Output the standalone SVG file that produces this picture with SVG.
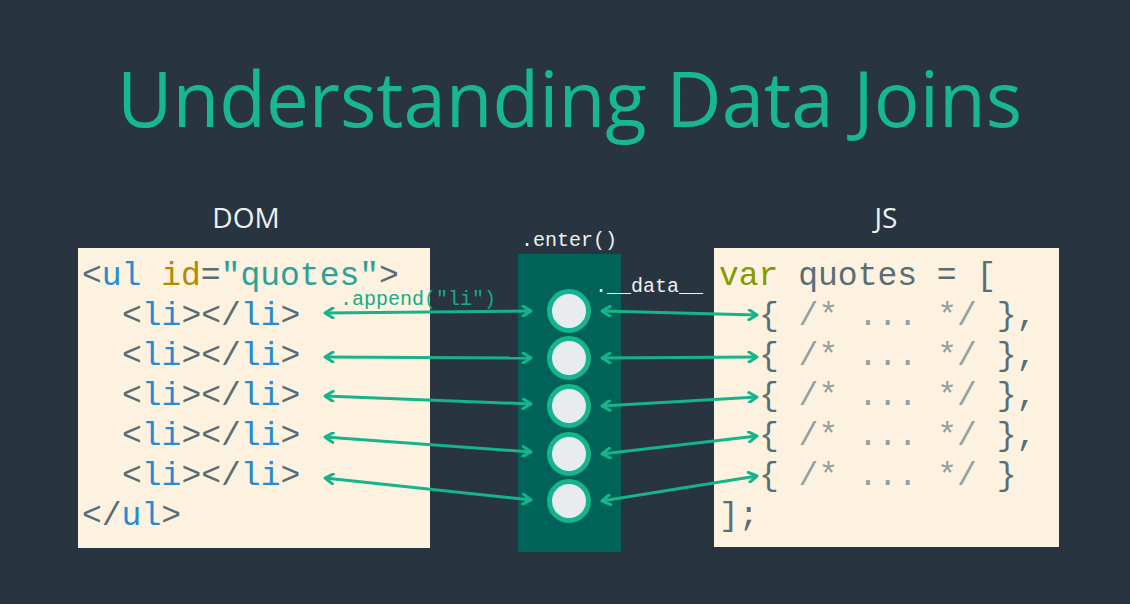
<svg xmlns="http://www.w3.org/2000/svg" width="1130" height="604" viewBox="0 0 1130 604">
<defs>
<style>
.title{font-family:"Open Sans","Liberation Sans",sans-serif;font-weight:400;font-size:77px;fill:#17b890}
.lbl{font-family:"Open Sans","Liberation Sans",sans-serif;font-size:28px;fill:#eef0f2}
.code{font-family:"Liberation Mono","DejaVu Sans Mono",monospace;font-size:33px}
.small{font-family:"Liberation Mono","DejaVu Sans Mono",monospace;font-size:20px}
.g{fill:#586e75}.b{fill:#268bd2}.y{fill:#b58900}.c{fill:#2aa198}.v{fill:#859900}.cm{fill:#93a1a1}
.panel{fill:#fdf2e0}
.dot{fill:#e9ecef;stroke:#16b48c;stroke-width:5}
.arr{stroke:#16b48c;stroke-width:3;fill:none;marker-start:url(#ah);marker-end:url(#ah)}
</style>
<marker id="ah" viewBox="0 0 12 12" refX="10" refY="6" markerWidth="12" markerHeight="12" markerUnits="userSpaceOnUse" orient="auto-start-reverse">
<path d="M2,1 L10,6 L2,11" fill="none" stroke="#16b48c" stroke-width="3" stroke-linecap="round" stroke-linejoin="round"/>
</marker>
</defs>
<rect width="1130" height="604" fill="#283541"/>
<text class="title" x="569.5" y="127" text-anchor="middle" textLength="905" lengthAdjust="spacingAndGlyphs">Understanding Data Joins</text>
<text class="lbl" x="246" y="228" text-anchor="middle">DOM</text>
<text class="lbl" x="886" y="228" text-anchor="middle">JS</text>

<g id="dom">
<rect class="panel" x="78" y="248" width="352" height="300"/>
<text class="code" x="82" y="285"><tspan class="g">&lt;</tspan><tspan class="b">ul</tspan><tspan class="g"> </tspan><tspan class="y">id</tspan><tspan class="g">=</tspan><tspan class="c">"quotes"</tspan><tspan class="g">&gt;</tspan></text>
<text class="code" x="122" y="325"><tspan class="g">&lt;</tspan><tspan class="b">li</tspan><tspan class="g">&gt;&lt;/</tspan><tspan class="b">li</tspan><tspan class="g">&gt;</tspan></text>
<text class="code" x="122" y="365"><tspan class="g">&lt;</tspan><tspan class="b">li</tspan><tspan class="g">&gt;&lt;/</tspan><tspan class="b">li</tspan><tspan class="g">&gt;</tspan></text>
<text class="code" x="122" y="405"><tspan class="g">&lt;</tspan><tspan class="b">li</tspan><tspan class="g">&gt;&lt;/</tspan><tspan class="b">li</tspan><tspan class="g">&gt;</tspan></text>
<text class="code" x="122" y="445"><tspan class="g">&lt;</tspan><tspan class="b">li</tspan><tspan class="g">&gt;&lt;/</tspan><tspan class="b">li</tspan><tspan class="g">&gt;</tspan></text>
<text class="code" x="122" y="485"><tspan class="g">&lt;</tspan><tspan class="b">li</tspan><tspan class="g">&gt;&lt;/</tspan><tspan class="b">li</tspan><tspan class="g">&gt;</tspan></text>
<text class="code" x="82" y="525"><tspan class="g">&lt;/</tspan><tspan class="b">ul</tspan><tspan class="g">&gt;</tspan></text>
</g>

<g id="js">
<rect class="panel" x="714" y="248" width="345" height="299"/>
<text class="code" x="719" y="285" xml:space="preserve"><tspan class="v">var</tspan><tspan class="g"> quotes = [</tspan></text>
<text class="code" x="759" y="325" xml:space="preserve"><tspan class="g">{ </tspan><tspan class="cm">/* ... */</tspan><tspan class="g"> },</tspan></text>
<text class="code" x="759" y="365" xml:space="preserve"><tspan class="g">{ </tspan><tspan class="cm">/* ... */</tspan><tspan class="g"> },</tspan></text>
<text class="code" x="759" y="405" xml:space="preserve"><tspan class="g">{ </tspan><tspan class="cm">/* ... */</tspan><tspan class="g"> },</tspan></text>
<text class="code" x="759" y="445" xml:space="preserve"><tspan class="g">{ </tspan><tspan class="cm">/* ... */</tspan><tspan class="g"> },</tspan></text>
<text class="code" x="759" y="485" xml:space="preserve"><tspan class="g">{ </tspan><tspan class="cm">/* ... */</tspan><tspan class="g"> }</tspan></text>
<text class="code g" x="719" y="525">];</text>
</g>

<g id="enter">
<rect x="518" y="254" width="103" height="298" fill="#00635a"/>
<text class="small" x="569" y="246" text-anchor="middle" fill="#eef0f2">.enter()</text>
<circle class="dot" cx="569" cy="311" r="19.5"/>
<circle class="dot" cx="569" cy="358" r="19.5"/>
<circle class="dot" cx="569" cy="406" r="19.5"/>
<circle class="dot" cx="569" cy="454" r="19.5"/>
<circle class="dot" cx="569" cy="501" r="19.5"/>
</g>

<g id="connectors">
<line class="arr" x1="325" y1="313" x2="531" y2="311"/>
<line class="arr" x1="325" y1="357" x2="531" y2="358"/>
<line class="arr" x1="325" y1="396" x2="531" y2="404"/>
<line class="arr" x1="325" y1="437" x2="531" y2="452"/>
<line class="arr" x1="325" y1="478" x2="531" y2="500"/>
<line class="arr" x1="602" y1="311" x2="757" y2="315"/>
<line class="arr" x1="602" y1="358" x2="757" y2="357"/>
<line class="arr" x1="602" y1="406" x2="757" y2="397"/>
<line class="arr" x1="602" y1="454" x2="757" y2="436"/>
<line class="arr" x1="602" y1="501" x2="757" y2="476"/>
<text class="small" x="340" y="305" fill="#1aa88a" font-size="19">.append("li")</text>
<text class="small" x="595" y="292" fill="#eef0f2">.__data__</text>
</g>
</svg>
